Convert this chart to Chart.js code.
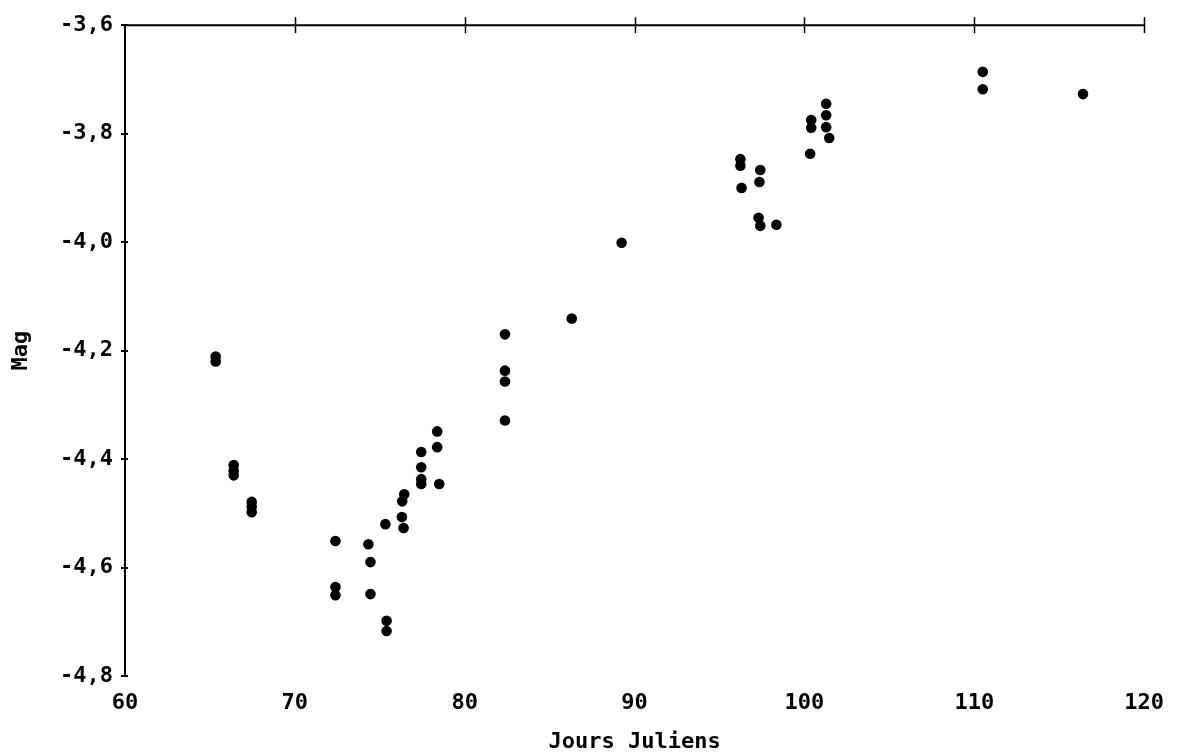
<!DOCTYPE html>
<html>
<head>
<meta charset="utf-8">
<script src="https://cdn.jsdelivr.net/npm/chart.js@4.4.1/dist/chart.umd.min.js"></script>
<style>
  html, body { margin: 0; padding: 0; background: #fff; }
  canvas { display: block; }
</style>
</head>
<body>
<canvas id="magChart" width="1178" height="755"></canvas>
<script>
// jours juliens / magnitude
var jours = [65.34, 65.34,
    66.4, 66.4, 66.4,
    67.46, 67.46, 67.46,
    72.39, 72.39, 72.39,
    74.33, 74.45, 74.45,
    75.33, 75.4, 75.4,
    76.44, 76.32, 76.3, 76.4,
    77.44, 77.44, 77.44, 77.44,
    78.38, 78.38, 78.5,
    82.37, 82.37, 82.37, 82.37,
    86.3, 89.24,
    96.23, 96.23, 96.3,
    97.4, 97.35, 97.3, 97.4, 98.35,
    100.4, 100.4, 100.34,
    101.28, 101.28, 101.28, 101.46,
    110.5, 110.5, 116.4];
var mag = [-4.211, -4.220,
    -4.411, -4.421, -4.430,
    -4.479, -4.488, -4.498,
    -4.551, -4.636, -4.651,
    -4.557, -4.590, -4.649,
    -4.520, -4.698, -4.717,
    -4.465, -4.478, -4.507, -4.527,
    -4.387, -4.415, -4.437, -4.446,
    -4.349, -4.378, -4.446,
    -4.170, -4.237, -4.257, -4.329,
    -4.141, -4.001,
    -3.847, -3.859, -3.900,
    -3.867, -3.889, -3.955, -3.970, -3.968,
    -3.775, -3.789, -3.837,
    -3.745, -3.766, -3.788, -3.808,
    -3.686, -3.718, -3.727];
var xTicks = [60, 70, 80, 90, 100, 110, 120];
var yTicks = [-4.8, -4.6, -4.4, -4.2, -4.0, -3.8, -3.6];

var police = { family: '"DejaVu Sans Mono", monospace', size: 22, weight: 'bold' };

// ligne du haut et petites graduations qui traversent les axes
var graduations = {
    id: 'graduations',
    afterDraw: function(chart) {
        var ctx = chart.ctx, a = chart.chartArea;
        var sx = chart.scales.x, sy = chart.scales.y;
        ctx.save();
        ctx.strokeStyle = '#000';
        ctx.lineWidth = 2;
        ctx.beginPath();
        ctx.moveTo(a.left - 2, a.top);
        ctx.lineTo(a.right, a.top);
        ctx.stroke();
        ctx.lineWidth = 1.5;
        xTicks.forEach(function(v) {
            if (v === xTicks[0]) return;
            var px = Math.round(sx.getPixelForValue(v)) + 0.5;
            ctx.beginPath();
            ctx.moveTo(px, a.top - 8);
            ctx.lineTo(px, a.top + 8);
            ctx.stroke();
        });
        ctx.lineWidth = 2;
        yTicks.forEach(function(v) {
            var py = Math.round(sy.getPixelForValue(v));
            ctx.beginPath();
            ctx.moveTo(a.left - 4, py);
            ctx.lineTo(a.left + 3, py);
            ctx.stroke();
        });
        ctx.restore();
    }
};

var ctx = document.getElementById('magChart').getContext('2d');
var magChart = new Chart(ctx, {
    type: 'scatter',
    data: {
        datasets: [{
            label: 'Mag',
            data: jours.map(function(j, i) { return { x: j, y: mag[i] }; }),
            backgroundColor: '#000',
            borderColor: '#000',
            borderWidth: 0,
            pointRadius: 5.3,
            pointHoverRadius: 5.3
        }]
    },
    options: {
        responsive: false,
        animation: false,
        events: [],
        layout: { padding: { left: 8, top: 24, right: 31, bottom: 0 } },
        plugins: {
            legend: { display: false },
            tooltip: { enabled: false }
        },
        scales: {
            x: {
                type: 'linear',
                position: 'bottom',
                min: 60,
                max: 120,
                afterBuildTicks: function(s) { s.ticks = xTicks.map(function(v) { return { value: v }; }); },
                afterFit: function(s) { s.height = 79; },
                grid: { display: false, drawTicks: false },
                border: { display: false },
                ticks: {
                    color: '#000',
                    font: police,
                    padding: 14,
                    maxRotation: 0,
                    callback: function(v) { return String(v); }
                },
                title: {
                    display: true,
                    text: 'Jours Juliens',
                    color: '#000',
                    font: police,
                    padding: 0
                }
            },
            y: {
                type: 'linear',
                min: -4.8,
                max: -3.6,
                afterBuildTicks: function(s) { s.ticks = yTicks.map(function(v) { return { value: v }; }); },
                afterFit: function(s) { s.width = 117; },
                grid: { display: false, drawTicks: false },
                border: { display: true, color: '#000', width: 2 },
                ticks: {
                    color: '#000',
                    font: police,
                    padding: 12,
                    callback: function(v) { return v.toFixed(1).replace('.', ','); }
                },
                title: {
                    display: true,
                    text: 'Mag',
                    color: '#000',
                    font: police,
                    padding: 0
                }
            }
        }
    },
    plugins: [graduations]
});
</script>
</body>
</html>
